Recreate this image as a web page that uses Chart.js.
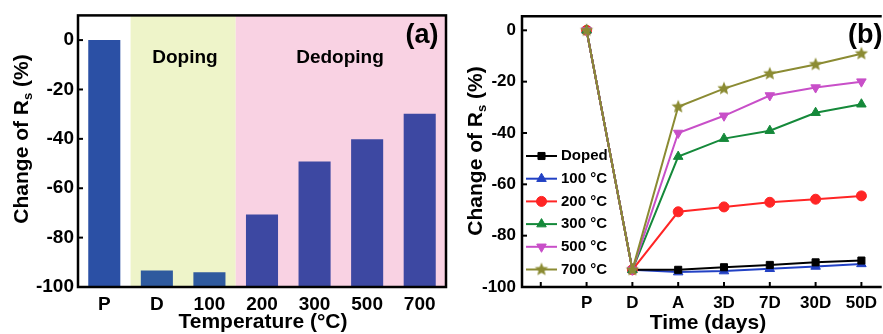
<!DOCTYPE html>
<html><head><meta charset="utf-8">
<script src="https://cdn.jsdelivr.net/npm/chart.js@4/dist/chart.umd.min.js"></script>
<style>
html,body{margin:0;padding:0;background:#fff;}
#wrap{position:relative;width:883px;height:334px;overflow:hidden;background:#fff;}
#a{position:absolute;left:0;top:0;width:450px;height:334px;}
#b{position:absolute;left:450px;top:0;width:433px;height:334px;}
</style></head><body>
<div id="wrap"><div id="a"><canvas id="ca"></canvas></div><div id="b"><canvas id="cb"></canvas></div></div>
<script>
// ---------- data: panel (a) ----------
const tempCategories = ['P', 'D', '100', '200', '300', '500', '700'];
const rsChange = [0, -93.3, -94.0, -70.6, -49.2, -40.2, -29.8];
const barColors = ['#2b50a5', '#2f5a9e', '#2f5a9e', '#3d48a2', '#3d48a2', '#3d48a2', '#3d48a2'];
const yTicksA = [-100, -80, -60, -40, -20, 0];

// ---------- data: panel (b) ----------
const timeLabels = ['', 'P', 'D', 'A', '3D', '7D', '30D', '50D'];
const seriesNames = ['Doped', '100 °C', '200 °C', '300 °C', '500 °C', '700 °C'];
const doped = [0, -93.3, -93.3, -92.3, -91.4, -90.4, -89.7];
const t100  = [0, -93.3, -94.2, -93.8, -92.9, -92.0, -91.0];
const t200  = [0, -93.3, -70.7, -68.8, -67.0, -65.8, -64.5];
const t300  = [0, -93.3, -49.2, -42.2, -39.1, -32.1, -28.8];
const t500  = [0, -93.3, -40.0, -33.3, -25.4, -22.3, -20.0];
const t700  = [0, -93.3, -29.8, -22.7, -16.9, -13.3, -9.1];
const yTicksB = [-100, -80, -60, -40, -20, 0];

const FONT = '"Liberation Sans", Arial, sans-serif';

function starCanvas(color, r) {
  const s = Math.ceil(r * 2 + 2);
  const c = document.createElement('canvas'); c.width = s; c.height = s;
  const g = c.getContext('2d'); g.fillStyle = color; g.beginPath();
  for (let i = 0; i < 10; i++) {
    const rad = i % 2 ? r * 0.45 : r;
    const a = -Math.PI / 2 + i * Math.PI / 5;
    g.lineTo(s / 2 + rad * Math.cos(a), s / 2 + rad * Math.sin(a));
  }
  g.closePath(); g.fill();
  return c;
}

function drawRsTitle(ctx, cx, cy, size) {
  ctx.save();
  ctx.translate(cx, cy); ctx.rotate(-Math.PI / 2);
  const big = `bold ${size}px ${FONT}`, small = `bold ${Math.round(size * 0.62)}px ${FONT}`;
  const parts = [['Change of R', big, 0], ['s', small, size * 0.32], [' (%)', big, 0]];
  ctx.textBaseline = 'middle'; ctx.textAlign = 'left'; ctx.fillStyle = '#000';
  let w = 0; parts.forEach(p => { ctx.font = p[1]; w += ctx.measureText(p[0]).width; });
  let x = -w / 2;
  parts.forEach(p => { ctx.font = p[1]; ctx.fillText(p[0], x, p[2]); x += ctx.measureText(p[0]).width; });
  ctx.restore();
}

function text(ctx, str, x, y, size, align) {
  ctx.save();
  ctx.font = `bold ${size}px ${FONT}`; ctx.fillStyle = '#000';
  ctx.textAlign = align || 'center'; ctx.textBaseline = 'middle';
  ctx.fillText(str, x, y);
  ctx.restore();
}

// ---------- panel (a) ----------
const bandsPlugin = {
  id: 'bands',
  beforeDraw(chart) {
    const { ctx, chartArea: ca, scales: { x } } = chart;
    const x1 = x.getPixelForValue(0.5), x2 = x.getPixelForValue(2.5);
    ctx.save();
    ctx.fillStyle = '#eef4c9'; ctx.fillRect(x1, ca.top, x2 - x1, ca.bottom - ca.top);
    ctx.fillStyle = '#f9d2e3'; ctx.fillRect(x2, ca.top, ca.right - x2, ca.bottom - ca.top);
    ctx.restore();
  },
  afterDraw(chart) {
    const { ctx, chartArea: ca, scales: { y } } = chart;
    ctx.save();
    ctx.strokeStyle = '#000'; ctx.lineWidth = 2.5;
    ctx.strokeRect(ca.left, ca.top, ca.right - ca.left, ca.bottom - ca.top);
    ctx.lineWidth = 2;
    yTicksA.forEach(v => {
      const py = y.getPixelForValue(v);
      ctx.beginPath(); ctx.moveTo(ca.left, py); ctx.lineTo(ca.left + 5, py); ctx.stroke();
    });
    ctx.restore();
    text(ctx, 'Doping', 185, 58, 19);
    text(ctx, 'Dedoping', 340, 58, 19);
    text(ctx, '(a)', 422, 36, 27);
    text(ctx, 'Temperature (°C)', 263, 322, 21);
    drawRsTitle(ctx, 22, 139, 21);
  }
};

new Chart(document.getElementById('ca'), {
  type: 'bar',
  data: {
    labels: tempCategories,
    datasets: [{ data: rsChange, backgroundColor: barColors, base: -100,
      barPercentage: 0.61, categoryPercentage: 1, borderWidth: 0 }]
  },
  options: {
    responsive: true, maintainAspectRatio: false, animation: false, devicePixelRatio: 1,
    layout: { padding: { top: 14, right: 4, left: 0, bottom: 0 }, autoPadding: false },
    plugins: { legend: { display: false }, tooltip: { enabled: false } },
    scales: {
      x: {
        grid: { display: false, drawTicks: false }, border: { display: false },
        ticks: { color: '#000', font: { family: FONT, size: 19, weight: 'bold' }, padding: 6, maxRotation: 0, autoSkip: false },
        afterFit(s) { s.height = 47; }
      },
      y: {
        min: -100, max: 10,
        grid: { display: false, drawTicks: false }, border: { display: false },
        afterBuildTicks(s) { s.ticks = yTicksA.map(v => ({ value: v })); },
        ticks: { color: '#000', font: { family: FONT, size: 19, weight: 'bold' }, padding: 4 },
        afterFit(s) { s.width = 78; }
      }
    }
  },
  plugins: [bandsPlugin]
});

// ---------- panel (b) ----------
const seriesData = [doped, t100, t200, t300, t500, t700];
const colors = ['#000000', '#2241c4', '#ff2525', '#15893a', '#c84fc8', '#8b8b33'];
const styles = ['rect', 'triangle', 'circle', 'triangle', 'triangle', starCanvas('#8b8b33', 7)];
const rotations = [0, 0, 0, 0, 180, 0];
const radii = [5, 5.5, 5, 5.5, 5.5, 6];
const orders = [5, 6, 4, 3, 2, 1];

const datasets = seriesNames.map((name, k) => ({
  label: name,
  data: seriesData[k].map((v, i) => ({ x: i + 1, y: v })),
  borderColor: colors[k], backgroundColor: colors[k],
  borderWidth: 2, pointStyle: styles[k], pointRotation: rotations[k],
  pointRadius: radii[k], pointBorderWidth: 1, pointBorderColor: colors[k], pointBackgroundColor: colors[k],
  order: orders[k], tension: 0
}));

const framePlugin = {
  id: 'frameB',
  afterDraw(chart) {
    const { ctx, chartArea: ca, scales: { x, y } } = chart;
    ctx.save();
    ctx.strokeStyle = '#000'; ctx.lineWidth = 2.5;
    ctx.beginPath();
    ctx.moveTo(ca.right + 2, ca.top); ctx.lineTo(ca.left, ca.top); ctx.lineTo(ca.left, ca.bottom); ctx.lineTo(ca.right + 2, ca.bottom);
    ctx.stroke();
    ctx.lineWidth = 2;
    yTicksB.forEach(v => {
      const py = y.getPixelForValue(v);
      ctx.beginPath(); ctx.moveTo(ca.left, py); ctx.lineTo(ca.left + 5, py); ctx.stroke();
    });
    timeLabels.forEach((_, i) => {
      const px = x.getPixelForValue(i);
      ctx.beginPath(); ctx.moveTo(px, ca.bottom); ctx.lineTo(px, ca.bottom - 5); ctx.stroke();
    });
    ctx.restore();

    // legend: line + marker + label
    seriesNames.forEach((name, k) => {
      const ly = 156 + k * 22.7;
      const x0 = 526 - 450, x1 = 557 - 450;
      ctx.save();
      ctx.strokeStyle = colors[k]; ctx.lineWidth = 2;
      ctx.beginPath(); ctx.moveTo(x0, ly); ctx.lineTo(x1, ly); ctx.stroke();
      const mx = (x0 + x1) / 2;
      if (typeof styles[k] === 'string') {
        ctx.fillStyle = colors[k]; ctx.strokeStyle = colors[k]; ctx.lineWidth = 1;
        Chart.helpers.drawPoint(ctx, { pointStyle: styles[k], radius: radii[k], rotation: rotations[k], borderWidth: 1 }, mx, ly);
      } else {
        const img = styles[k];
        ctx.drawImage(img, mx - img.width / 2, ly - img.height / 2);
      }
      ctx.restore();
      text(ctx, name, 561 - 450, ly, 15, 'left');
    });

    text(ctx, '(b)', 848 - 450, 36, 27, 'left');
    text(ctx, 'Time (days)', 708 - 450, 323, 21);
    drawRsTitle(ctx, 476 - 450, 151, 21);
  }
};

new Chart(document.getElementById('cb'), {
  type: 'line',
  data: { datasets },
  options: {
    responsive: true, maintainAspectRatio: false, animation: false, devicePixelRatio: 1,
    layout: { padding: { top: 14, right: 0, left: 0, bottom: 0 }, autoPadding: false },
    plugins: { legend: { display: false }, tooltip: { enabled: false } },
    scales: {
      x: {
        type: 'linear', min: -0.41, max: 7.4,
        grid: { display: false, drawTicks: false }, border: { display: false },
        afterBuildTicks(s) { s.ticks = timeLabels.map((_, i) => ({ value: i })); },
        ticks: { color: '#000', font: { family: FONT, size: 17, weight: 'bold' }, padding: 6, maxRotation: 0, autoSkip: false,
          callback: v => timeLabels[v] },
        afterFit(s) { s.height = 47; }
      },
      y: {
        min: -100, max: 5.5,
        grid: { display: false, drawTicks: false }, border: { display: false },
        afterBuildTicks(s) { s.ticks = yTicksB.map(v => ({ value: v })); },
        ticks: { color: '#000', font: { family: FONT, size: 17, weight: 'bold' }, padding: 6 },
        afterFit(s) { s.width = 72; }
      }
    }
  },
  plugins: [framePlugin]
});
</script>
</body></html>
